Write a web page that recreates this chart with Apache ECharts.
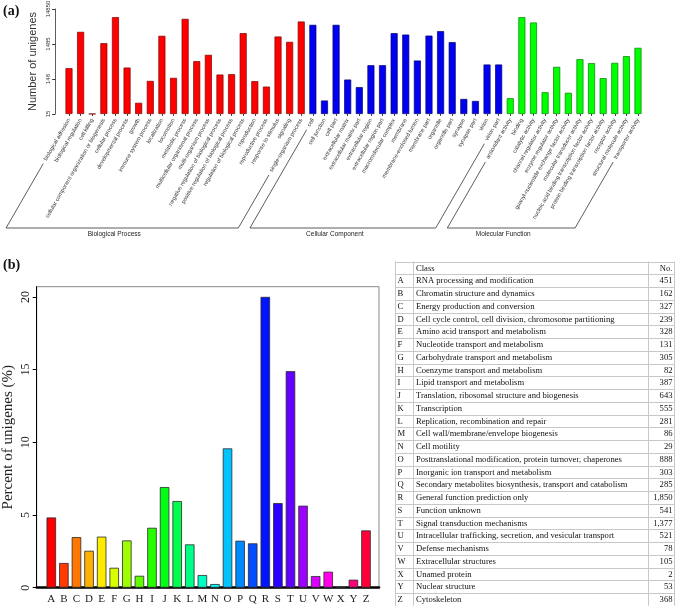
<!DOCTYPE html>
<html>
<head>
<meta charset="utf-8">
<script src="https://cdn.jsdelivr.net/npm/echarts@6/dist/echarts.min.js"></script>
<style>
  html, body { margin: 0; padding: 0; background: #fff; }
  #main { width: 675px; height: 606px; }
</style>
</head>
<body>
<div id="main"></div>
<script>
// (a) GO classification, number of unigenes per term (log axis)
const bpTerms = ['biological adhesion', 'biological regulation', 'cell killing',
  'cellular component organization or biogenesis', 'cellular process', 'developmental process',
  'growth', 'immune system process', 'localization', 'locomotion', 'metabolic process',
  'multicellular organismal process', 'multi-organism process',
  'negative regulation of biological process', 'positive regulation of biological process',
  'regulation of biological process', 'reproduction', 'reproductive process',
  'response to stimulus', 'signaling', 'single-organism process'];
const bpCounts = [303, 3300, 15, 1570, 8700, 315, 31, 131, 2540, 160, 7760, 480, 728,
  199, 204, 3030, 129, 90, 2430, 1710, 6520];

const ccTerms = ['cell', 'cell junction', 'cell part', 'extracellular matrix',
  'extracellular matrix part', 'extracellular region', 'extracellular region part',
  'macromolecular complex', 'membrane', 'membrane-enclosed lumen', 'membrane part',
  'organelle', 'organelle part', 'synapse', 'synapse part', 'virion', 'virion part'];
const ccCounts = [5240, 36, 5240, 143, 87, 368, 368, 3030, 2760, 500, 2580, 3460, 1680,
  40, 35, 385, 385];

const mfTerms = ['antioxidant activity', 'binding', 'catalytic activity',
  'channel regulator activity', 'enzyme regulator activity',
  'guanyl-nucleotide exchange factor activity', 'molecular transducer activity',
  'nucleic acid binding transcription factor activity',
  'protein binding transcription factor activity', 'receptor activity',
  'structural molecule activity', 'transporter activity'];
const mfCounts = [42, 8700, 6100, 62, 330, 60, 547, 421, 157, 429, 667, 1154];

const goTickLabels = ['15', '148', '1485', '14850'];
const goGroupNames = ['Biological Process', 'Cellular Component', 'Molecular Function'];

// (b) KOG classification
const kogLetters = ['A', 'B', 'C', 'D', 'E', 'F', 'G', 'H', 'I', 'J', 'K', 'L', 'M',
  'N', 'O', 'P', 'Q', 'R', 'S', 'T', 'U', 'V', 'W', 'X', 'Y', 'Z'];
const kogPercent = [4.83, 1.70, 3.48, 2.54, 3.51, 1.37, 3.25, 0.82, 4.12, 6.92, 5.96, 2.98,
  0.87, 0.25, 9.58, 3.23, 3.05, 20.0, 5.82, 14.89, 5.64, 0.80, 1.10, 0.02, 0.55, 3.94];
const kogClasses = ['RNA processing and modification', 'Chromatin structure and dynamics',
  'Energy production and conversion', 'Cell cycle control, cell division, chromosome partitioning',
  'Amino acid transport and metabolism', 'Nucleotide transport and metabolism',
  'Carbohydrate transport and metabolism', 'Coenzyme transport and metabolism',
  'Lipid transport and metabolism', 'Translation, ribosomal structure and biogenesis',
  'Transcription', 'Replication, recombination and repair', 'Cell wall/membrane/envelope biogenesis',
  'Cell motility', 'Posttranslational modification, protein turnover, chaperones',
  'Inorganic ion transport and metabolism',
  'Secondary metabolites biosynthesis, transport and catabolism',
  'General function prediction only', 'Function unknown', 'Signal transduction mechanisms',
  'Intracellular trafficking, secretion, and vesicular transport', 'Defense mechanisms',
  'Extracellular structures', 'Unamed protein', 'Nuclear structure', 'Cytoskeleton'];
const kogCounts = ['451', '162', '327', '239', '328', '131', '305', '82', '387', '643', '555',
  '281', '86', '29', '888', '303', '285', '1,850', '541', '1,377', '521', '78', '105', '2',
  '53', '368'];

const SANS = 'Liberation Sans';
const SERIF = 'Liberation Serif';
const LOG_BASE = 14.85;

const groupStyles = [
  { color: '#ff0000', borderColor: '#800000' },
  { color: '#0000f0', borderColor: '#000070' },
  { color: '#00ff00', borderColor: '#008000' }
];
const groups = [
  { terms: bpTerms, counts: bpCounts },
  { terms: ccTerms, counts: ccCounts },
  { terms: mfTerms, counts: mfCounts }
];

const goTerms = [];
const goData = [];
groups.forEach((g, gi) => {
  g.terms.forEach((t, i) => {
    goTerms.push(t);
    goData.push({
      value: Math.log10(g.counts[i] / LOG_BASE),
      itemStyle: { color: groupStyles[gi].color, borderColor: groupStyles[gi].borderColor, borderWidth: 0.7 }
    });
  });
});

// R style rainbow(26)
function rainbow(n) {
  const out = [];
  for (let i = 0; i < n; i++) {
    const h = i / n * 6;
    const k = Math.floor(h), f = h - k;
    let r, g, b;
    switch (k) {
      case 0: r = 1; g = f; b = 0; break;
      case 1: r = 1 - f; g = 1; b = 0; break;
      case 2: r = 0; g = 1; b = f; break;
      case 3: r = 0; g = 1 - f; b = 1; break;
      case 4: r = f; g = 0; b = 1; break;
      default: r = 1; g = 0; b = 1 - f;
    }
    out.push('rgb(' + Math.round(r * 255) + ',' + Math.round(g * 255) + ',' + Math.round(b * 255) + ')');
  }
  return out;
}
const kogColors = rainbow(kogLetters.length);

const chart = echarts.init(document.getElementById('main'), null, { renderer: 'canvas' });

const option = {
  animation: false,
  grid: [
    { left: 63.2, right: 31.2, top: 9, bottom: 492, outerBoundsMode: 'none' },
    { left: 36.7, right: 296, top: 286.7, bottom: 18.3, show: true, borderColor: '#888', borderWidth: 1, outerBoundsMode: 'none' },
    { left: 45, right: 302.7, top: 286.7, bottom: 18.3, outerBoundsMode: 'none' }
  ],
  xAxis: [
    {
      type: 'category', gridIndex: 0, data: goTerms,
      axisLine: { show: false },
      axisTick: { show: true, length: 2, alignWithLabel: true, lineStyle: { color: '#444' } },
      axisLabel: { interval: 0, rotate: 60, fontSize: 5.6, fontFamily: SANS, color: '#333', margin: 5 }
    },
    {
      type: 'value', gridIndex: 1, min: 0, max: 1,
      axisLine: { show: true, onZero: false, lineStyle: { color: '#000', width: 2.5 } },
      axisTick: { show: false }, axisLabel: { show: false }, splitLine: { show: false }
    },
    {
      type: 'category', gridIndex: 2, data: kogLetters,
      axisLine: { show: false }, axisTick: { show: false },
      axisLabel: { interval: 0, fontSize: 11, fontFamily: SERIF, color: '#222', margin: 6 }
    }
  ],
  yAxis: [
    {
      type: 'value', gridIndex: 0, min: 0, max: 3, interval: 1, offset: 8,
      name: 'Number of unigenes', nameLocation: 'middle', nameGap: 17, nameMoveOverlap: false,
      nameTextStyle: { fontSize: 11, fontFamily: SANS, color: '#333' },
      axisLine: { show: true, lineStyle: { color: '#333', width: 0.8 } },
      axisTick: { show: true, length: 3, lineStyle: { color: '#333' } },
      axisLabel: { rotate: 90, fontSize: 6, fontFamily: SANS, color: '#333', margin: 4,
        formatter: v => goTickLabels[Math.round(v)] },
      splitLine: { show: false }
    },
    {
      type: 'value', gridIndex: 1, min: 0, max: 20.7, interval: 5,
      name: 'Percent of unigenes (%)', nameLocation: 'middle', nameGap: 21, nameMoveOverlap: false,
      nameTextStyle: { fontSize: 15, fontFamily: SERIF, color: '#222' },
      axisLine: { show: true, lineStyle: { color: '#000', width: 1 } },
      axisTick: { show: true, length: 4, lineStyle: { color: '#000' } },
      axisLabel: { rotate: 90, fontSize: 12, fontFamily: SERIF, color: '#222', margin: 5, showMaxLabel: false },
      splitLine: { show: false }
    },
    {
      type: 'value', gridIndex: 2, min: 0, max: 20.7, show: false, splitLine: { show: false }
    }
  ],
  series: [
    { type: 'bar', xAxisIndex: 0, yAxisIndex: 0, barWidth: 7, data: goData },
    {
      type: 'bar', xAxisIndex: 2, yAxisIndex: 2, barWidth: 9.5,
      data: kogPercent.map((v, i) => ({
        value: v,
        itemStyle: { color: kogColors[i], borderColor: '#2a2a2a', borderWidth: 0.8 }
      }))
    }
  ]
};
chart.setOption(option);

// group brackets under the GO term labels, plus panel letters and the KOG table
const measure = document.createElement('canvas').getContext('2d');
measure.font = '5.6px "' + SANS + '"';
const axisY = chart.convertToPixel({ yAxisIndex: 0 }, 0);
const labelY = axisY + 5;
const bracketY = 228;
const dx = Math.cos(Math.PI / 3), dy = Math.sin(Math.PI / 3);
const graphics = [];
const lineStyle = { stroke: '#333', lineWidth: 0.8 };

function slant(term) {
  const cx = chart.convertToPixel({ xAxisIndex: 0 }, term);
  const w = measure.measureText(term).width + 4;
  const top = [cx - w * dx, labelY + w * dy];
  const t = (bracketY - labelY) / dy;
  const bottom = [cx - t * dx, bracketY];
  return { top, bottom };
}

groups.forEach((g, gi) => {
  const a = slant(g.terms[0]);
  const b = slant(g.terms[g.terms.length - 1]);
  graphics.push({
    type: 'polyline', silent: true,
    shape: { points: [a.top, a.bottom, b.bottom, b.top] },
    style: Object.assign({ fill: null }, lineStyle)
  });
  graphics.push({
    type: 'text', silent: true,
    x: (a.bottom[0] + b.bottom[0]) / 2 - 8, y: bracketY + 3,
    style: { text: goGroupNames[gi], fontSize: 6.5, fontFamily: SANS, fill: '#222', align: 'center', verticalAlign: 'top' }
  });
});

graphics.push({ type: 'text', x: 3, y: 4, style: { text: '(a)', fontSize: 14, fontWeight: 'bold', fontFamily: SERIF, fill: '#111' } });
graphics.push({ type: 'text', x: 3, y: 258, style: { text: '(b)', fontSize: 14, fontWeight: 'bold', fontFamily: SERIF, fill: '#111' } });

// table
const tX = [395.5, 413.5, 648.5, 674.5];
const tTop = 261.5;
const rowH = 12.75;
const nRows = kogLetters.length + 1;
const tBottom = tTop + nRows * rowH;
const gridColor = '#c8c8c8';
for (let i = 0; i <= nRows; i++) {
  const y = Math.round(tTop + i * rowH) + 0.5;
  graphics.push({ type: 'line', silent: true, shape: { x1: tX[0], y1: y, x2: tX[3], y2: y }, style: { stroke: gridColor, lineWidth: 1 } });
}
tX.forEach(x => {
  graphics.push({ type: 'line', silent: true, shape: { x1: x, y1: tTop, x2: x, y2: tBottom }, style: { stroke: gridColor, lineWidth: 1 } });
});
const cellFont = { fontSize: 8.6, fontFamily: SERIF, fill: '#111', verticalAlign: 'middle' };
function cell(text, x, row, align) {
  graphics.push({
    type: 'text', silent: true, x: x, y: tTop + (row + 0.5) * rowH + 0.5,
    style: Object.assign({ text: text, align: align }, cellFont)
  });
}
cell('Class', tX[1] + 2.5, 0, 'left');
cell('No.', tX[3] - 2, 0, 'right');
kogLetters.forEach((l, i) => {
  cell(l, tX[0] + 2, i + 1, 'left');
  cell(kogClasses[i], tX[1] + 2.5, i + 1, 'left');
  cell(kogCounts[i], tX[3] - 2, i + 1, 'right');
});

chart.setOption({ graphic: { elements: graphics } });
</script>
</body>
</html>
